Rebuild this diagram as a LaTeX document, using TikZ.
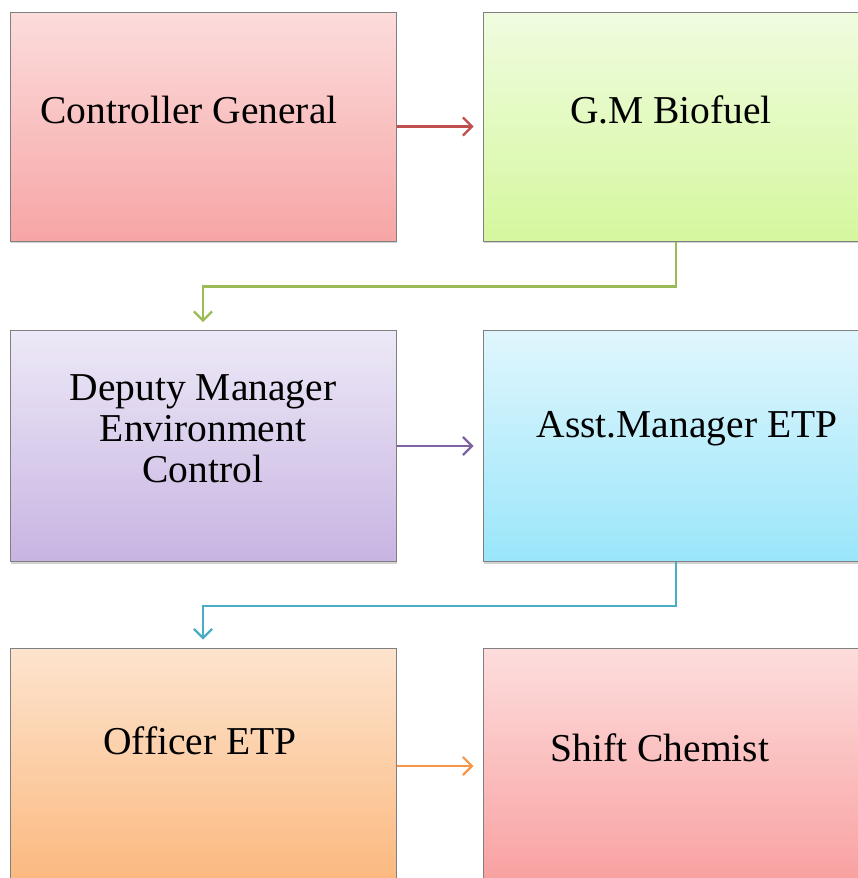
\documentclass[tikz,border=0pt]{standalone}
\usepackage{fontspec}
\setmainfont{Liberation Serif}
\usetikzlibrary{arrows.meta,shadows,calc}
\definecolor{cRed}{HTML}{C0504D}
\definecolor{cGreen}{HTML}{9BBB59}
\definecolor{cPurple}{HTML}{8064A2}
\definecolor{cBlue}{HTML}{4BACC6}
\definecolor{cOrange}{HTML}{F79646}
\tikzset{
  box/.style={draw=black!50, line width=1pt, rectangle, minimum width=386pt, inner sep=0pt,
    drop shadow={opacity=0.35, shadow xshift=1.2pt, shadow yshift=-2pt}},
  lbl/.style={font=\fontsize{39.5}{41}\selectfont, anchor=base, inner sep=0pt},
  conn/.style={line width=2.6pt, -{Straight Barb[length=9pt,width=18pt,line width=2.2pt]}, shorten >=8pt}
}
\begin{document}
\begin{tikzpicture}[x=1pt,y=1pt]
\useasboundingbox (0,0) rectangle (858,-878);
\fill[white] (0,0) rectangle (858,-878);
% boxes
\node[box, minimum height=229pt, top color={rgb,255:red,252;green,220;blue,220}, bottom color={rgb,255:red,247;green,165;blue,165}]
      (cg) at (203,-126.5) {};
\node[box, minimum height=229pt, top color={rgb,255:red,240;green,252;blue,224}, bottom color={rgb,255:red,213;green,247;blue,158}]
      (gm) at (676,-126.5) {};
\node[box, minimum height=231pt, top color={rgb,255:red,237;green,233;blue,247}, bottom color={rgb,255:red,200;green,180;blue,226}]
      (dm) at (203,-446) {};
\node[box, minimum height=231pt, top color={rgb,255:red,224;green,246;blue,253}, bottom color={rgb,255:red,154;green,230;blue,250}]
      (am) at (676,-446) {};
\node[box, minimum height=236pt, top color={rgb,255:red,253;green,228;blue,206}, bottom color={rgb,255:red,251;green,184;blue,126}]
      (of) at (203,-766) {};
\node[box, minimum height=236pt, top color={rgb,255:red,253;green,221;blue,221}, bottom color={rgb,255:red,249;green,160;blue,160}]
      (sc) at (676,-766) {};
% labels
\node[lbl] (tcg) at (189,-123) {Controller General};
\node[lbl] (tgm) at (671,-123) {G.M Biofuel};
\node[lbl] (tdm1) at (203,-400) {Deputy Manager};
\node[lbl] (tdm2) at (203,-441) {Environment};
\node[lbl] (tdm3) at (203,-482) {Control};
\node[lbl] (tam) at (687,-437) {Asst.Manager ETP};
\node[lbl] (tof) at (200,-754) {Officer ETP};
\node[lbl] (tsc) at (660,-761) {Shift Chemist};
% connectors
\draw[conn, cRed, shorten >=9pt] (cg.east) -- (gm.west);
\draw[conn, cGreen] (gm.south) -- ++(0,-45) -| (dm.north);
\draw[conn, cPurple, shorten >=9pt] (dm.east) -- (am.west);
\draw[conn, cBlue] (am.south) -- ++(0,-44) -| (of.north);
\draw[conn, cOrange, shorten >=9pt] (of.east) -- (sc.west);
\end{tikzpicture}
\end{document}
